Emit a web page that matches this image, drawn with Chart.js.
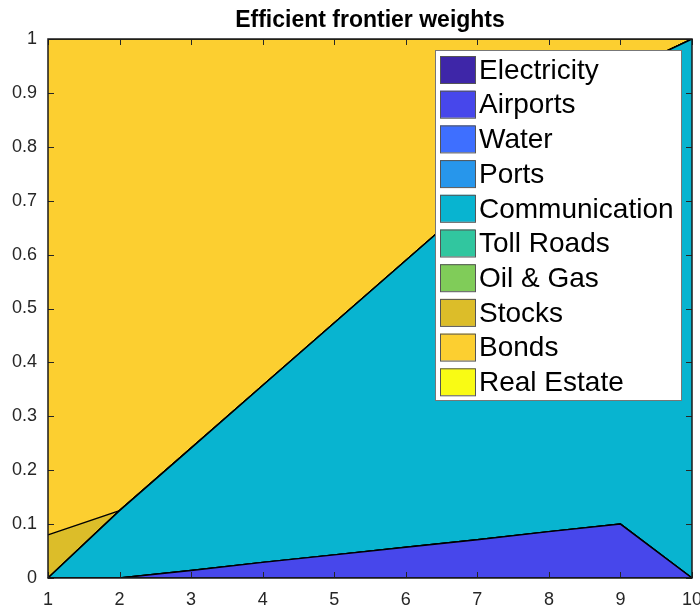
<!DOCTYPE html>
<html>
<head>
<meta charset="utf-8">
<script src="https://cdn.jsdelivr.net/npm/chart.js@4.4.0/dist/chart.umd.min.js"></script>
<style>
  html, body { margin: 0; padding: 0; background: #fff; }
  #wrap { width: 700px; height: 610px; }
</style>
</head>
<body>
<div id="wrap"><canvas id="weights" width="700" height="610"></canvas></div>
<script>
// portfolio points along the frontier
const points = ['1', '2', '3', '4', '5', '6', '7', '8', '9', '10'];
const yTicks = [0, 0.1, 0.2, 0.3, 0.4, 0.5, 0.6, 0.7, 0.8, 0.9, 1];

const assets = ['Electricity', 'Airports', 'Water', 'Ports', 'Communication',
  'Toll Roads', 'Oil & Gas', 'Stocks', 'Bonds', 'Real Estate'];

// weight of each asset at each frontier point
const electricity   = [0, 0, 0, 0, 0, 0, 0, 0, 0, 0];
const airports      = [0, 0, 0.014, 0.029, 0.043, 0.057, 0.071, 0.086, 0.1, 0];
const water         = [0, 0, 0, 0, 0, 0, 0, 0, 0, 0];
const ports         = [0, 0, 0, 0, 0, 0, 0, 0, 0, 0];
const communication = [0, 0.125, 0.227, 0.328, 0.43, 0.532, 0.634, 0.735, 0.837, 1];
const tollRoads     = [0, 0, 0, 0, 0, 0, 0, 0, 0, 0];
const oilGas        = [0, 0, 0, 0, 0, 0, 0, 0, 0, 0];
const stocks        = [0.08, 0, 0, 0, 0, 0, 0, 0, 0, 0];
const bonds         = [0.92, 0.875, 0.759, 0.643, 0.527, 0.411, 0.295, 0.179, 0.063, 0];
const realEstate    = [0, 0, 0, 0, 0, 0, 0, 0, 0, 0];

const weights = [electricity, airports, water, ports, communication,
  tollRoads, oilGas, stocks, bonds, realEstate];

// parula-like colours
const colors = ['#3e26a8', '#4747eb', '#3e6fff', '#2796eb', '#08b4d0',
  '#31c69f', '#80cc59', '#dcbd29', '#fccf30', '#f9fb14'];

const FONT = "'Liberation Sans', Arial, Helvetica, sans-serif";

const datasets = assets.map((name, i) => ({
  label: name,
  data: weights[i],
  backgroundColor: colors[i],
  borderColor: '#000',
  borderWidth: 1.4,
  pointRadius: 0,
  tension: 0,
  fill: i === 0 ? 'origin' : '-1'
}));

// box, inward ticks, title and legend drawn matlab-style
const frame = {
  id: 'frame',
  afterDraw(chart) {
    const ctx = chart.ctx;
    const a = chart.chartArea;
    const xs = chart.scales.x, ys = chart.scales.y;
    ctx.save();

    // tick marks on all four sides
    ctx.strokeStyle = '#262626';
    ctx.lineWidth = 1;
    ctx.beginPath();
    points.forEach((p, i) => {
      const x = Math.round(xs.getPixelForValue(i)) + 0.5;
      ctx.moveTo(x, a.bottom); ctx.lineTo(x, a.bottom - 6);
      ctx.moveTo(x, a.top); ctx.lineTo(x, a.top + 6);
    });
    yTicks.forEach(v => {
      const y = Math.round(ys.getPixelForValue(v)) + 0.5;
      ctx.moveTo(a.left, y); ctx.lineTo(a.left + 6, y);
      ctx.moveTo(a.right, y); ctx.lineTo(a.right - 6, y);
    });
    ctx.stroke();

    ctx.strokeStyle = '#1a1a1a';
    ctx.lineWidth = 1.5;
    ctx.strokeRect(a.left, a.top, a.right - a.left, a.bottom - a.top);

    // title
    ctx.fillStyle = '#000';
    ctx.font = 'bold 23px ' + FONT;
    ctx.textAlign = 'center';
    ctx.textBaseline = 'alphabetic';
    ctx.fillText('Efficient frontier weights', (a.left + a.right) / 2, 27);

    // legend
    const lx = 435.5, ly = 50.5, lw = 246, lh = 350, pitch = 34.7;
    ctx.fillStyle = '#fff';
    ctx.fillRect(lx, ly, lw, lh);
    ctx.strokeStyle = '#777';
    ctx.lineWidth = 1;
    ctx.strokeRect(lx, ly, lw, lh);
    ctx.font = '28px ' + FONT;
    ctx.textAlign = 'left';
    ctx.textBaseline = 'middle';
    assets.forEach((name, i) => {
      const y = 56 + i * pitch;
      ctx.fillStyle = colors[i];
      ctx.fillRect(440, y, 35, 27);
      ctx.strokeStyle = '#555';
      ctx.strokeRect(440.5, y + 0.5, 35, 27);
      ctx.fillStyle = '#000';
      ctx.fillText(name, 479, y + 15);
    });
    ctx.restore();
  }
};

new Chart(document.getElementById('weights'), {
  type: 'line',
  data: { labels: points, datasets: datasets },
  options: {
    responsive: false,
    animation: false,
    layout: { autoPadding: false, padding: { left: 0, top: 39, right: 8, bottom: 0 } },
    plugins: {
      legend: { display: false },
      title: { display: false },
      tooltip: { enabled: false },
      filler: { propagate: false }
    },
    scales: {
      x: {
        offset: false,
        grid: { display: false, drawTicks: false },
        border: { display: false },
        ticks: { color: '#262626', font: { family: FONT, size: 18 }, padding: 11, maxRotation: 0, autoSkip: false },
        afterFit(s) {
          s.height = 32;
          s.paddingLeft = 0;
          s.paddingRight = 0;
        }
      },
      y: {
        stacked: true,
        min: 0,
        max: 1,
        grid: { display: false, drawTicks: false },
        border: { display: false },
        ticks: {
          stepSize: 0.1,
          color: '#262626',
          font: { family: FONT, size: 18 },
          padding: 11,
          callback: v => String(Number(v.toFixed(1)))
        },
        afterFit(s) {
          s.width = 48;
          s.paddingTop = 0;
          s.paddingBottom = 0;
        }
      }
    }
  },
  plugins: [frame]
});
</script>
</body>
</html>
